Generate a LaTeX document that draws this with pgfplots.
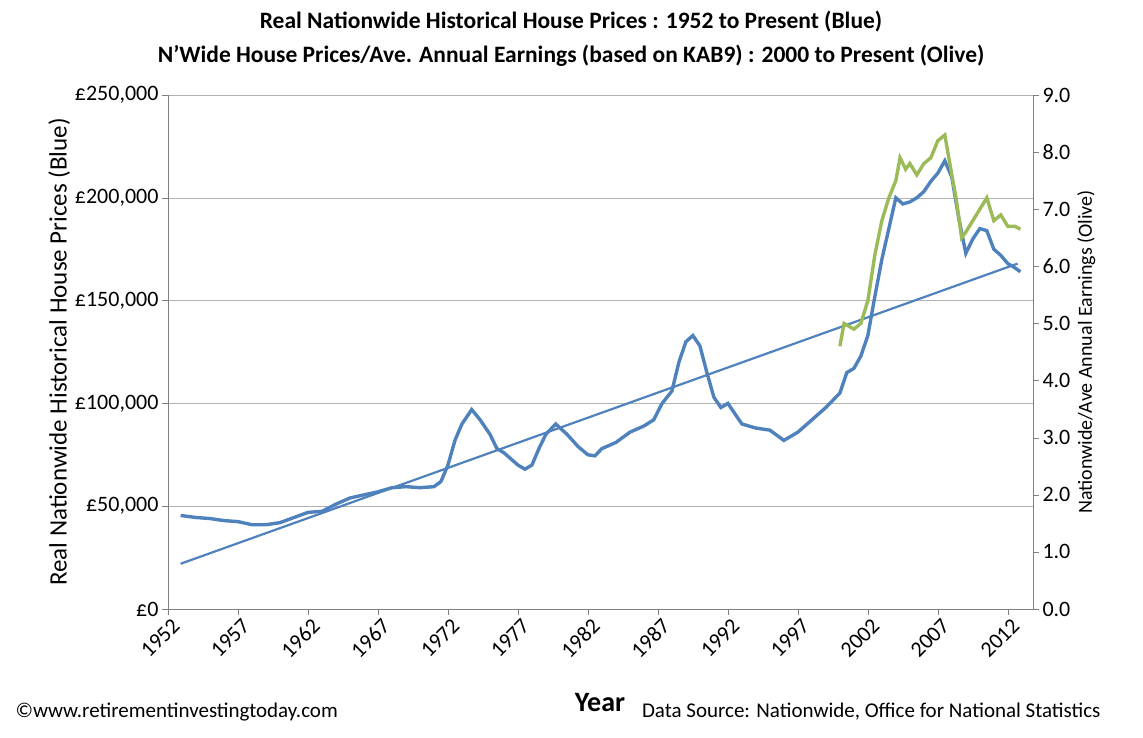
\documentclass[border=0pt]{standalone}
\usepackage{pgfplots}
\pgfplotsset{compat=1.18}
\usepackage{fontspec}
\setmainfont{Carlito}
\definecolor{cblue}{HTML}{4F81BD}
\definecolor{colive}{HTML}{9BBB59}
\begin{document}
\begin{tikzpicture}
\useasboundingbox (0,0) rectangle (1143pt,737pt);
\node[font=\fontsize{23.5}{26}\selectfont\bfseries] at (571pt,715pt) {Real Nationwide Historical House Prices : 1952 to Present (Blue)};
\node[font=\fontsize{23.5}{26}\selectfont\bfseries] at (571pt,681pt) {N'Wide House Prices/Ave. Annual Earnings (based on KAB9) : 2000 to Present (Olive)};
\node[font=\fontsize{28}{30}\selectfont\bfseries] at (600pt,34pt) {Year};
\node[font=\fontsize{21}{23}\selectfont,anchor=west] at (12pt,25pt) {©www.retirementinvestingtoday.com};
\node[font=\fontsize{21}{23}\selectfont,anchor=east] at (1104pt,25pt) {Data Source: Nationwide, Office for National Statistics};
\begin{axis}[at={(168pt,128pt)},anchor=south west,width=865pt,height=514pt,scale only axis,
 xmin=1952,xmax=2013.8,ymin=0,ymax=250000,
 xtick={1952,1957,...,2012},
 x tick label style={rotate=45,anchor=north east,/pgf/number format/1000 sep={},xshift=4pt},
 ytick={0,50000,...,250000},
 yticklabels={£0,{£50,000},{£100,000},{£150,000},{£200,000},{£250,000}},
 ymajorgrids,grid style={gray!60},
 axis line style={gray},tick style={gray},tick align=outside,major tick length=6pt,
 tick label style={font=\fontsize{22}{24}\selectfont},
 /pgf/number format/assume math mode=true,
 axis y line*=left,axis x line*=bottom,
 ylabel={Real Nationwide Historical House Prices (Blue)},
 ylabel style={font=\fontsize{25}{27}\selectfont,yshift=-2pt},
 scaled y ticks=false]
\addplot[cblue,line width=2.2pt] coordinates {(1952.9,22000)(2012.7,168000)};
\addplot[cblue,line width=3.4pt] coordinates {
(1952.9,45500)(1954,44500)(1955,44000)(1956,43000)(1957,42500)(1958,41000)(1959,41000)(1960,42000)(1961,44500)(1962,47000)(1963,47500)(1964,51000)(1965,54000)(1966,55500)(1967,57000)(1968,59000)(1969,59500)(1970,59000)(1971,59500)(1971.5,62000)(1972,70000)(1972.5,82000)(1973,90000)(1973.7,97000)(1974.3,92000)(1975,85000)(1975.5,78000)(1976,76000)(1976.5,73000)(1977,70000)(1977.5,68000)(1978,70000)(1978.5,78000)(1979,85000)(1979.7,90000)(1980.5,85000)(1981.3,79000)(1982,75000)(1982.5,74500)(1983,78000)(1984,81000)(1985,86000)(1986,89000)(1986.7,92000)(1987.3,100000)(1988,106000)(1988.5,120000)(1989,130000)(1989.5,133000)(1990,128000)(1990.5,115000)(1991,103000)(1991.5,98000)(1992,100000)(1992.5,95000)(1993,90000)(1994,88000)(1995,87000)(1996,82000)(1997,86000)(1998,92000)(1999,98000)(2000,105000)(2000.5,115000)(2001,117000)(2001.5,123000)(2002,133000)(2002.5,152000)(2003,170000)(2003.5,185000)(2004,200000)(2004.5,197000)(2005,198000)(2005.5,200000)(2006,203000)(2006.5,208000)(2007,212000)(2007.5,218000)(2008,210000)(2008.5,190000)(2009,173000)(2009.5,180000)(2010,185000)(2010.5,184000)(2011,175000)(2011.5,172000)(2012,168000)(2012.5,166000)(2012.9,164000)};
\end{axis}
\begin{axis}[at={(168pt,128pt)},anchor=south west,width=865pt,height=514pt,scale only axis,
 xmin=1952,xmax=2013.8,ymin=0,ymax=9,
 axis x line=none,axis y line*=right,
 ytick={0,1,...,9},
 yticklabel style={/pgf/number format/.cd,fixed,fixed zerofill,precision=1},
 axis line style={gray},tick style={gray},tick align=outside,major tick length=6pt,
 tick label style={font=\fontsize{22}{24}\selectfont},
 /pgf/number format/assume math mode=true,
 ylabel={Nationwide/Ave Annual Earnings (Olive)},
 ylabel style={font=\fontsize{20}{22}\selectfont}]
\addplot[colive,line width=3.4pt] coordinates {
(2000,4.6)(2000.3,5.0)(2001,4.9)(2001.5,5.0)(2002,5.4)(2002.5,6.2)(2003,6.8)(2003.5,7.2)(2004,7.5)(2004.3,7.9)(2004.7,7.7)(2005,7.8)(2005.5,7.6)(2006,7.8)(2006.5,7.9)(2007,8.2)(2007.5,8.3)(2008,7.6)(2008.3,7.2)(2008.7,6.5)(2009,6.6)(2009.5,6.8)(2010,7.0)(2010.5,7.2)(2011,6.8)(2011.5,6.9)(2012,6.7)(2012.5,6.7)(2012.9,6.65)};
\end{axis}
\end{tikzpicture}
\end{document}
